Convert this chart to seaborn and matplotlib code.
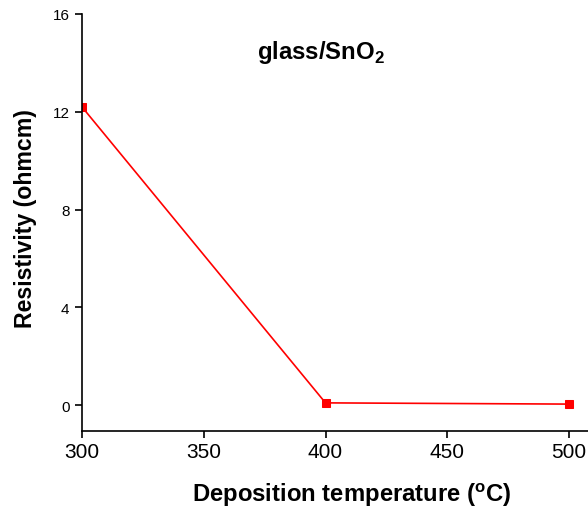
import matplotlib
matplotlib.use("Agg")
import matplotlib.pyplot as plt
import seaborn as sns
import pandas as pd

temperature = [300, 400, 500]
resistivity = [12.2, 0.1, 0.05]
y_ticks = [0, 4, 8, 12, 16]
x_ticks = [300, 350, 400, 450, 500]

sns.set_theme(style="ticks")
plt.rcParams['font.family'] = ['Liberation Sans', 'DejaVu Sans']
plt.rcParams['text.color'] = 'black'
plt.rcParams['axes.labelcolor'] = 'black'
plt.rcParams['xtick.color'] = 'black'
plt.rcParams['ytick.color'] = 'black'

df = pd.DataFrame({"T": temperature, "R": resistivity})

fig = plt.figure(figsize=(5.88, 5.10), dpi=100)
ax = fig.add_axes([82/588, 1 - 432/510, 1 - 82/588, (432 - 15)/510])
sns.lineplot(data=df, x="T", y="R", ax=ax, color="#ff0000", linewidth=1.2,
             marker="s", markersize=6, markeredgecolor="#ff0000")

ax.set_xlim(300, 507.8)
ax.set_ylim(-1.05, 16)
ax.set_xticks(x_ticks)
ax.set_yticks(y_ticks)
ax.tick_params(axis="x", labelsize=15, direction="out", length=5, width=1.2, pad=3)
ax.tick_params(axis="y", labelsize=11, direction="out", length=5, width=1.2, pad=4)
for s in ["top", "right"]:
    ax.spines[s].set_visible(False)
for s in ["left", "bottom"]:
    ax.spines[s].set_linewidth(1.2)
    ax.spines[s].set_color("black")

ax.set_xlabel("Deposition temperature ($^{\\mathregular{o}}$C)", fontsize=17.2, fontweight="bold")
ax.xaxis.set_label_coords(0.534, -0.118)
ax.set_ylabel("Resistivity (ohmcm)", fontsize=16.7, fontweight="bold")
ax.yaxis.set_label_coords(-0.088, 0.512)
ax.text((321 - 82) / 506, (432 - 52) / 417, "glass/SnO$_{\\mathregular{2}}$", transform=ax.transAxes,
        ha="center", va="center", fontsize=17.2, fontweight="bold")

fig.savefig("out.png", dpi=100)
